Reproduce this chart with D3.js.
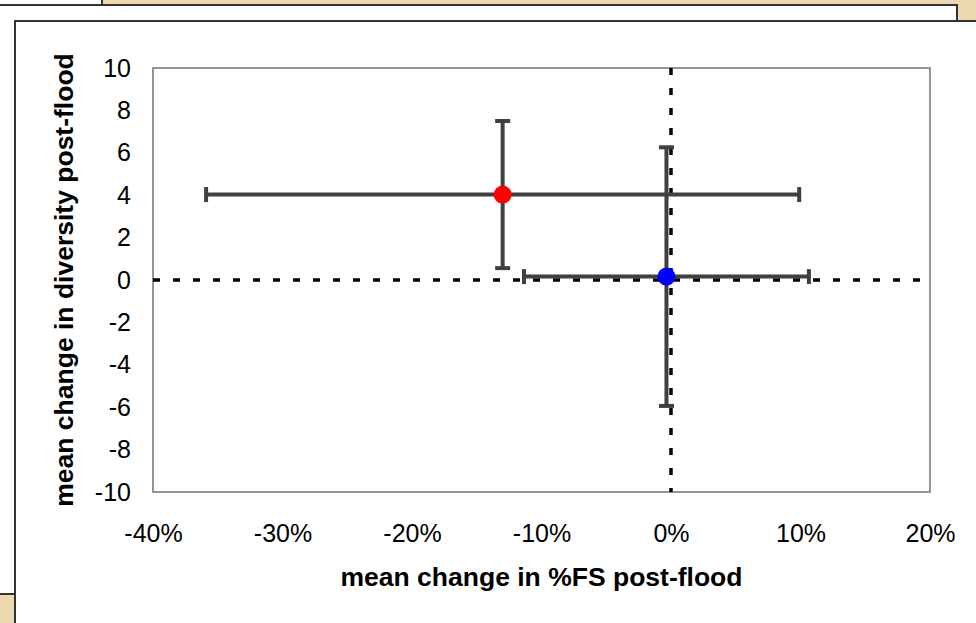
<!DOCTYPE html>
<html>
<head>
<meta charset="utf-8">
<script src="https://cdn.jsdelivr.net/npm/d3@7"></script>
<style>
    body { margin: 0; background: #ecd9b0; }
    svg { display: block; font-family: "Liberation Sans", Arial, sans-serif; }
</style>
</head>
<body>
<svg id="chart"></svg>
<script>

// series: flood group means and their error bars
const seriesNames = ["red group", "blue group"];
const meanFS = [-0.130, -0.0035];      // mean change in %FS
const errFS = [0.229, 0.110];          // +/- on x
const meanDiv = [4.03, 0.16];          // mean change in diversity
const errDiv = [3.47, 6.10];           // +/- on y
const pointColors = ["#ff0000", "#0000ff"];

const xTicks = [-0.4, -0.3, -0.2, -0.1, 0, 0.1, 0.2];
const yTicks = [-10, -8, -6, -4, -2, 0, 2, 4, 6, 8, 10];

// plain hyphen for negatives, like the original
const locale = d3.formatLocale({decimal: '.', thousands: ',', grouping: [3], currency: ['', ''], minus: '-'});

class ErrorScatter {

    constructor(_config) {
        this.config = {
            parentElement: _config.parentElement,
            containerWidth: _config.containerWidth || 976,
            containerHeight: _config.containerHeight || 623
        };
        this.config.margin = _config.margin || {top: 68, bottom: 131, right: 46, left: 153};
        this.initVis();
    }

    initVis() {
        let vis = this;
        vis.svg = d3.select(vis.config.parentElement)
            .attr('width', vis.config.containerWidth)
            .attr('height', vis.config.containerHeight);

        vis.width = vis.config.containerWidth - vis.config.margin.left - vis.config.margin.right;
        vis.height = vis.config.containerHeight - vis.config.margin.top - vis.config.margin.bottom;

        vis.renderFrames();

        vis.chart = vis.svg.append('g')
            .attr('transform', `translate(${vis.config.margin.left},${vis.config.margin.top})`);

        vis.xScale = d3.scaleLinear()
            .domain([xTicks[0], xTicks[xTicks.length - 1]])
            .range([0, vis.width]);
        vis.yScale = d3.scaleLinear()
            .domain([yTicks[0], yTicks[yTicks.length - 1]])
            .range([vis.height, 0]);

        vis.data = seriesNames.map((name, i) => ({
            name: name, x: meanFS[i], xe: errFS[i], y: meanDiv[i], ye: errDiv[i], color: pointColors[i]
        }));

        vis.render();
    }

    renderFrames() {
        let vis = this;
        // the slides stacked behind the chart
        vis.svg.append('rect').attr('x', -5).attr('y', -5).attr('width', 107).attr('height', 10)
            .attr('fill', '#fff').attr('stroke', '#333').attr('stroke-width', 2);
        vis.svg.append('rect').attr('x', -5).attr('y', 5).attr('width', 962).attr('height', 589)
            .attr('fill', '#fff').attr('stroke', '#333').attr('stroke-width', 2);
        vis.svg.append('rect').attr('x', 15).attr('y', 21).attr('width', 980).attr('height', 620)
            .attr('fill', '#fff').attr('stroke', '#333').attr('stroke-width', 2);
    }

    render() {
        let vis = this;

        // plot area
        vis.chart.append('rect')
            .attr('width', vis.width)
            .attr('height', vis.height)
            .attr('fill', 'none')
            .attr('stroke', '#949494')
            .attr('stroke-width', 2);

        // axes, labels only
        vis.xAxisG = vis.chart.append('g')
            .attr('transform', `translate(0,${vis.height})`)
            .call(d3.axisBottom(vis.xScale).tickValues(xTicks).tickSize(0).tickPadding(32)
                .tickFormat(locale.format('.0%')));
        vis.yAxisG = vis.chart.append('g')
            .call(d3.axisLeft(vis.yScale).tickValues(yTicks).tickSize(0).tickPadding(22)
                .tickFormat(locale.format('d')));
        vis.svg.selectAll('.domain').remove();
        [vis.xAxisG, vis.yAxisG].forEach(g => {
            g.attr('font-family', null).attr('font-size', null);
            g.selectAll('text').attr('font-size', '25px').attr('fill', '#000');
        });

        vis.chart.append('text')
            .attr('x', vis.width / 2)
            .attr('y', vis.height + 94)
            .attr('text-anchor', 'middle')
            .attr('font-size', '26.5px')
            .attr('font-weight', 'bold')
            .text('mean change in %FS post-flood');

        vis.chart.append('text')
            .attr('transform', `translate(-80,${vis.height / 2}) rotate(-90)`)
            .attr('text-anchor', 'middle')
            .attr('font-size', '26.5px')
            .attr('font-weight', 'bold')
            .text('mean change in diversity post-flood');

        // dotted zero lines
        vis.chart.append('line')
            .attr('x1', 0).attr('x2', vis.width)
            .attr('y1', vis.yScale(0)).attr('y2', vis.yScale(0))
            .attr('stroke', '#000').attr('stroke-width', 3.5).attr('stroke-dasharray', '7,13');
        vis.chart.append('line')
            .attr('x1', vis.xScale(0)).attr('x2', vis.xScale(0))
            .attr('y1', 0).attr('y2', vis.height)
            .attr('stroke', '#000').attr('stroke-width', 3.5).attr('stroke-dasharray', '7,13');

        const cap = 7.5;
        const bars = vis.chart.append('g')
            .attr('stroke', '#404040')
            .attr('stroke-width', 4)
            .selectAll('g')
            .data(vis.data)
            .join('g');

        // horizontal error
        bars.append('line')
            .attr('x1', d => vis.xScale(d.x - d.xe)).attr('x2', d => vis.xScale(d.x + d.xe))
            .attr('y1', d => vis.yScale(d.y)).attr('y2', d => vis.yScale(d.y));
        [-1, 1].forEach(s => {
            bars.append('line')
                .attr('x1', d => vis.xScale(d.x + s * d.xe)).attr('x2', d => vis.xScale(d.x + s * d.xe))
                .attr('y1', d => vis.yScale(d.y) - cap).attr('y2', d => vis.yScale(d.y) + cap);
        });

        // vertical error
        bars.append('line')
            .attr('x1', d => vis.xScale(d.x)).attr('x2', d => vis.xScale(d.x))
            .attr('y1', d => vis.yScale(d.y - d.ye)).attr('y2', d => vis.yScale(d.y + d.ye));
        [-1, 1].forEach(s => {
            bars.append('line')
                .attr('x1', d => vis.xScale(d.x) - cap).attr('x2', d => vis.xScale(d.x) + cap)
                .attr('y1', d => vis.yScale(d.y + s * d.ye)).attr('y2', d => vis.yScale(d.y + s * d.ye));
        });

        vis.chart.append('g')
            .selectAll('circle')
            .data(vis.data)
            .join('circle')
            .attr('cx', d => vis.xScale(d.x))
            .attr('cy', d => vis.yScale(d.y))
            .attr('r', 9)
            .attr('fill', d => d.color);
    }
}

new ErrorScatter({parentElement: '#chart'});
</script>
</body>
</html>
